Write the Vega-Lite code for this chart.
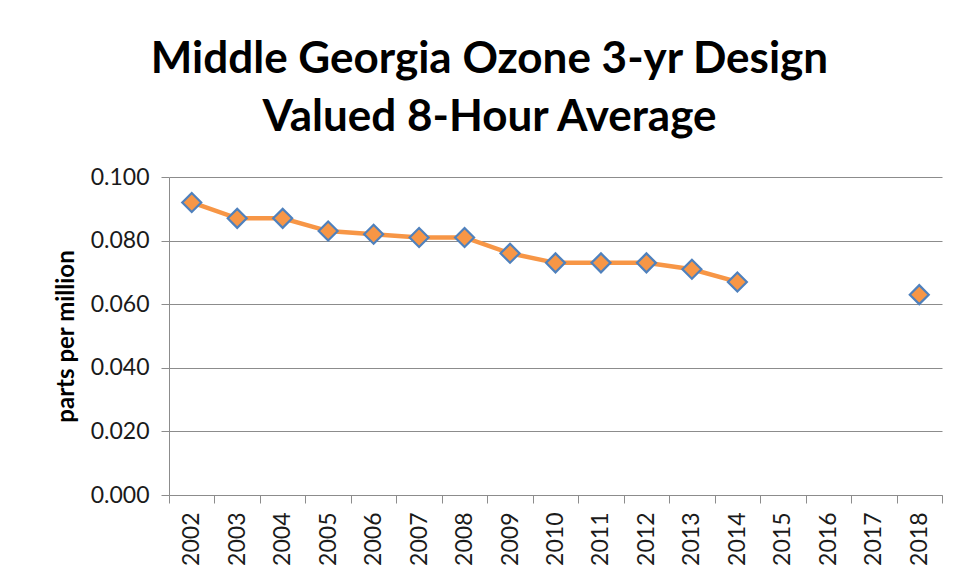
{
  "$schema": "https://vega.github.io/schema/vega-lite/v6.json",
  "width": 773,
  "height": 318,
  "autosize": "none",
  "padding": {"left": 169, "top": 177, "right": 16, "bottom": 85},
  "background": "white",
  "title": {
    "text": ["Middle Georgia Ozone 3-yr Design", "Valued 8-Hour Average"],
    "font": "Lato",
    "fontSize": 44,
    "fontWeight": "bold",
    "color": "#000000",
    "anchor": "middle",
    "dx": -66,
    "lineHeight": 58,
    "offset": 26
  },
  "data": {
    "values": [
      {"year": "2002", "ppm": 0.092},
      {"year": "2003", "ppm": 0.087},
      {"year": "2004", "ppm": 0.087},
      {"year": "2005", "ppm": 0.083},
      {"year": "2006", "ppm": 0.082},
      {"year": "2007", "ppm": 0.081},
      {"year": "2008", "ppm": 0.081},
      {"year": "2009", "ppm": 0.076},
      {"year": "2010", "ppm": 0.073},
      {"year": "2011", "ppm": 0.073},
      {"year": "2012", "ppm": 0.073},
      {"year": "2013", "ppm": 0.071},
      {"year": "2014", "ppm": 0.067},
      {"year": "2015", "ppm": null},
      {"year": "2016", "ppm": null},
      {"year": "2017", "ppm": null},
      {"year": "2018", "ppm": 0.063}
    ]
  },
  "encoding": {
    "x": {
      "field": "year",
      "type": "ordinal",
      "scale": {"paddingInner": 0, "paddingOuter": 0},
      "axis": {
        "title": null,
        "labelAngle": -90,
        "labelFont": "Lato",
        "labelFontSize": 23,
        "labelColor": "#1a1a1a",
        "labelPadding": 9,
        "tickBand": "extent",
        "tickSize": 8,
        "tickColor": "#8c8c8c",
        "domainColor": "#8c8c8c",
        "grid": false
      }
    },
    "y": {
      "field": "ppm",
      "type": "quantitative",
      "scale": {"domain": [0, 0.1], "nice": false, "zero": true},
      "axis": {
        "title": "parts per million",
        "titleFont": "Lato",
        "titleFontSize": 24,
        "titleFontWeight": "bold",
        "titleColor": "#000000",
        "titlePadding": 12,
        "values": [0, 0.02, 0.04, 0.06, 0.08, 0.1],
        "format": ".3f",
        "labelFont": "Lato",
        "labelFontSize": 23,
        "labelColor": "#1a1a1a",
        "labelPadding": 12,
        "tickSize": 8,
        "tickColor": "#8c8c8c",
        "domainColor": "#8c8c8c",
        "grid": true,
        "gridColor": "#8c8c8c",
        "gridWidth": 1
      }
    }
  },
  "layer": [
    {
      "mark": {"type": "line", "color": "#F79646", "strokeWidth": 4.5, "invalid": "break-paths-show-domains"},
      "encoding": {}
    },
    {
      "mark": {"type": "point", "shape": "diamond", "size": 360, "filled": true, "fill": "#F79646", "stroke": "#4F81BD", "strokeWidth": 2.2, "opacity": 1},
      "encoding": {}
    }
  ],
  "config": {"view": {"stroke": null}}
}
